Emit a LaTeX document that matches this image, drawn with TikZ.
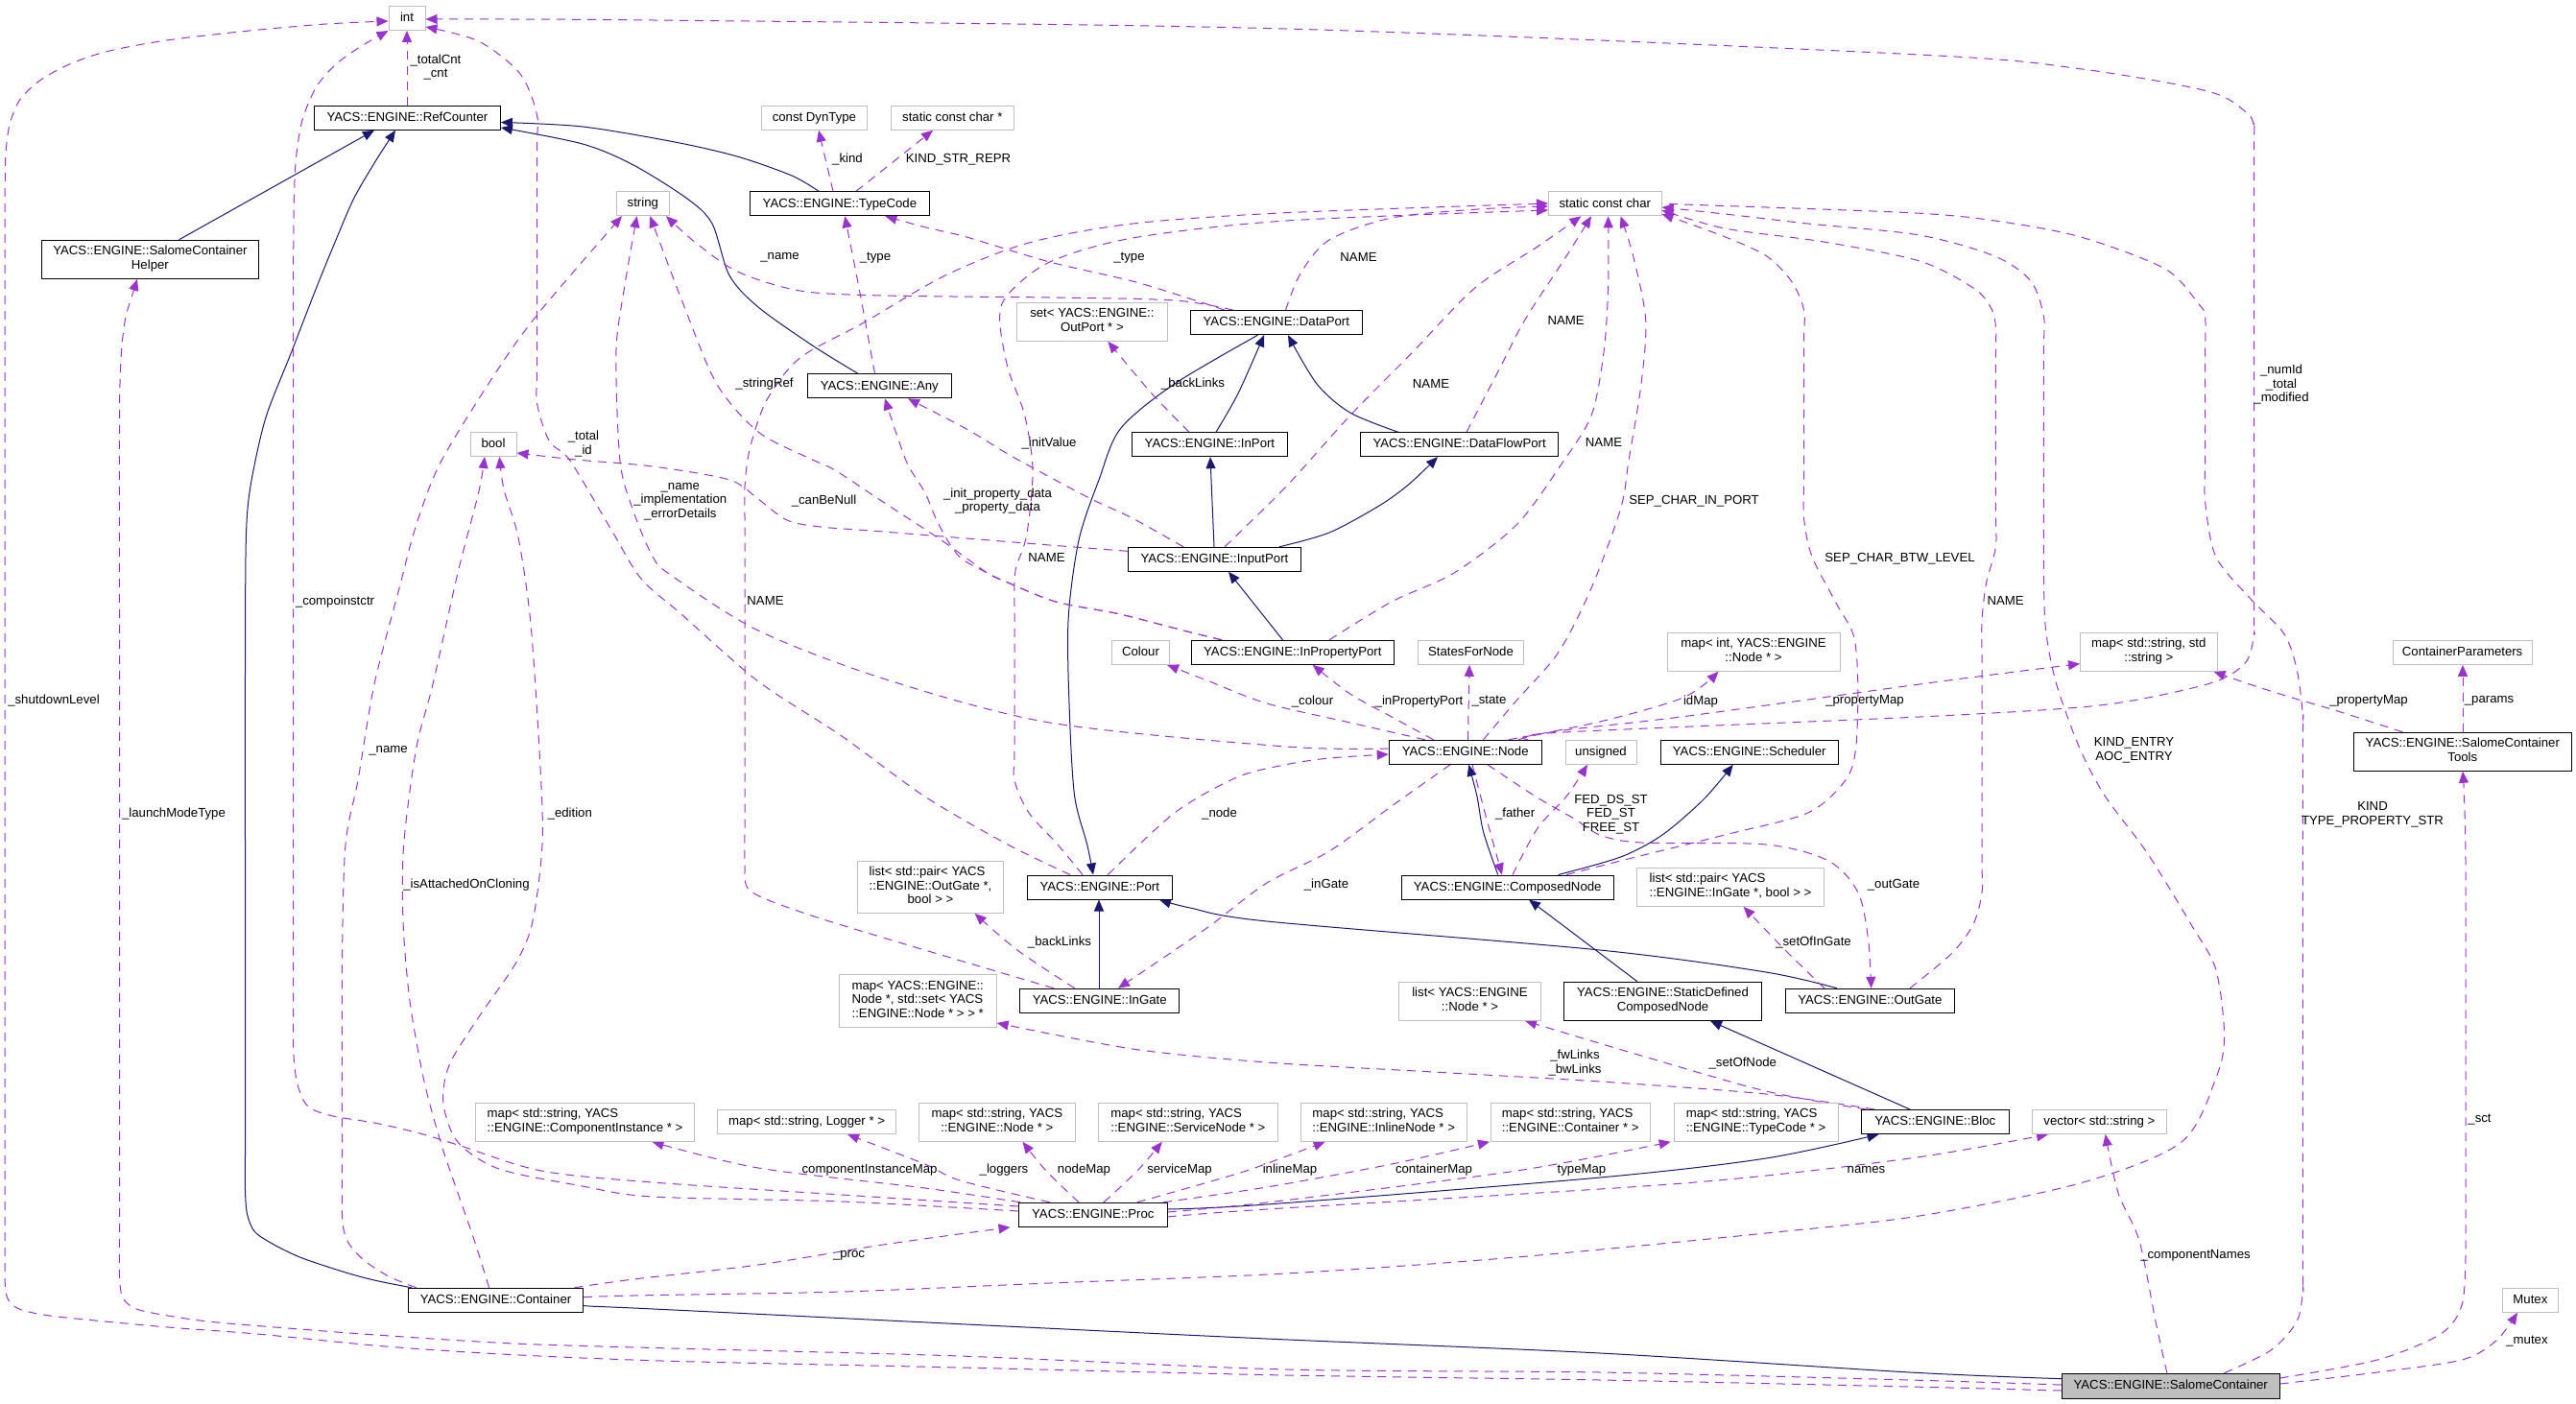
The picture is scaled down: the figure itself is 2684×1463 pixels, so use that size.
\documentclass[tikz,border=0pt]{standalone}
\usepackage{fontspec}
\setmainfont{Liberation Sans}
\usetikzlibrary{arrows.meta,calc}
\definecolor{depc}{HTML}{9A32CD}
\definecolor{inhc}{HTML}{191970}
\definecolor{extb}{HTML}{BFBFBF}
\newcommand{\dfont}{\fontsize{13.2}{14.5}\selectfont}
\newcommand{\twol}[2]{\begin{tabular}{@{}l@{}}#1\\\multicolumn{1}{@{}c@{}}{#2}\end{tabular}}
\pgfdeclarelayer{bg}
\pgfsetlayers{bg,main}
\tikzset{
  sz/.style 2 args={minimum width=#1pt,minimum height=#2pt},
  cls/.style={draw=black,line width=1pt,fill=white,inner sep=0pt},
  extbox/.style={draw=extb,line width=1pt,fill=white,inner sep=0pt},
  oneline/.style={text height=9.5pt,text depth=2pt},
  elab/.style={align=center,inner sep=0pt},
  inh/.style={draw=inhc,line width=1pt,-{Triangle[length=12pt,width=10pt]}},
  dep/.style={draw=depc,line width=1pt,dash pattern=on 9pt off 7pt,-{Triangle[length=12pt,width=10pt]}}
}
\begin{document}
\begin{tikzpicture}[x=1pt,y=-1pt,every node/.style={font=\dfont}]
\useasboundingbox (0,0) rectangle (2684,1463);
% ---------------- nodes
\node[extbox,oneline,sz={38}{25}] (int) at (424,19) {int};
\node[cls,oneline,sz={194}{25}] (RefCounter) at (424.4,122.8) {YACS::ENGINE::RefCounter};
\node[cls,sz={226}{40}] (Helper) at (156.4,270.3) {\twol{YACS::ENGINE::SalomeContainer}{Helper}};
\node[extbox,oneline,sz={55}{25}] (string) at (669.8,212.2) {string};
\node[extbox,oneline,sz={48}{25}] (bool) at (514,463) {bool};
\node[extbox,oneline,sz={110.6}{25}] (DynType) at (848.4,122.8) {const DynType};
\node[extbox,oneline,sz={127.5}{25}] (scchar) at (992.3,122.8) {static const char *};
\node[cls,oneline,sz={187}{25}] (TypeCode) at (874.9,212.3) {YACS::ENGINE::TypeCode};
\node[cls,oneline,sz={150}{25}] (Any) at (916.3,402.3) {YACS::ENGINE::Any};
\node[extbox,sz={157}{40}] (setOutPort) at (1137.9,335.3) {\twol{set< YACS::ENGINE::}{OutPort * >}};
\node[cls,oneline,sz={179}{25}] (DataPort) at (1329.8,336.2) {YACS::ENGINE::DataPort};
\node[cls,oneline,sz={162}{25}] (InPort) at (1260.4,463.2) {YACS::ENGINE::InPort};
\node[extbox,oneline,sz={117.5}{25}] (scc) at (1672.3,212.3) {static const char};
\node[cls,oneline,sz={206}{25}] (DataFlowPort) at (1520.6,463.2) {YACS::ENGINE::DataFlowPort};
\node[cls,oneline,sz={180}{25}] (InputPort) at (1265.4,582.8) {YACS::ENGINE::InputPort};
\node[extbox,oneline,sz={60}{25}] (Colour) at (1188.5,679.8) {Colour};
\node[cls,oneline,sz={211}{25}] (InPropertyPort) at (1346.8,679.8) {YACS::ENGINE::InPropertyPort};
\node[extbox,sz={152}{54}] (listOutGate) at (969.5,924.3) {\twol{list< std::pair< YACS\\::ENGINE::OutGate *,}{bool > >}};
\node[cls,oneline,sz={151}{25}] (Port) at (1145.8,924.5) {YACS::ENGINE::Port};
\node[extbox,oneline,sz={110}{25}] (StatesForNode) at (1532.5,679.8) {StatesForNode};
\node[extbox,sz={180}{40}] (mapIntNode) at (1827,679.3) {\twol{map< int, YACS::ENGINE}{::Node * >}};
\node[cls,oneline,sz={159}{25}] (Node) at (1526.7,783.8) {YACS::ENGINE::Node};
\node[extbox,oneline,sz={74}{25}] (unsigned) at (1668,783.8) {unsigned};
\node[cls,oneline,sz={185}{25}] (Scheduler) at (1822.7,783.8) {YACS::ENGINE::Scheduler};
\node[cls,oneline,sz={221}{25}] (ComposedNode) at (1570.7,924.5) {YACS::ENGINE::ComposedNode};
\node[extbox,sz={195}{40}] (listInGate) at (1803,924.3) {\twol{list< std::pair< YACS}{::ENGINE::InGate *, bool > >}};
\node[extbox,sz={142.5}{40}] (mapSS) at (2238.8,679.3) {\twol{map< std::string, std}{::string >}};
\node[extbox,oneline,sz={145}{25}] (ContainerParameters) at (2565.6,679.8) {ContainerParameters};
\node[cls,sz={226.6}{40}] (SCTools) at (2565.8,783.3) {\twol{YACS::ENGINE::SalomeContainer}{Tools}};
\node[extbox,sz={228.5}{40}] (mapCI) at (609.5,1169.3) {\twol{map< std::string, YACS}{::ENGINE::ComponentInstance * >}};
\node[cls,oneline,sz={182}{25}] (Container) at (516.5,1354.8) {YACS::ENGINE::Container};
\node[extbox,sz={164}{55}] (mapNodeSet) at (956.2,1042.8) {\twol{map< YACS::ENGINE::\\Node *, std::set< YACS}{::ENGINE::Node * > > *}};
\node[cls,oneline,sz={166.5}{25}] (InGate) at (1145.7,1042.8) {YACS::ENGINE::InGate};
\node[extbox,oneline,sz={186}{25}] (mapLogger) at (840.6,1169) {map< std::string, Logger * >};
\node[extbox,sz={162.7}{40}] (mapNode) at (1038.8,1169.3) {\twol{map< std::string, YACS}{::ENGINE::Node * >}};
\node[extbox,sz={187}{40}] (mapService) at (1237.9,1169.3) {\twol{map< std::string, YACS}{::ENGINE::ServiceNode * >}};
\node[cls,oneline,sz={154.4}{25}] (Proc) at (1138.8,1265.8) {YACS::ENGINE::Proc};
\node[extbox,sz={148}{40}] (listNode) at (1531.5,1043.3) {\twol{list< YACS::ENGINE}{::Node * >}};
\node[cls,sz={205.5}{40}] (SDCN) at (1732.5,1043.3) {\twol{YACS::ENGINE::StaticDefined}{ComposedNode}};
\node[cls,oneline,sz={176.5}{25}] (OutGate) at (1948.3,1042.8) {YACS::ENGINE::OutGate};
\node[extbox,sz={173}{40}] (mapInline) at (1441.7,1169.3) {\twol{map< std::string, YACS}{::ENGINE::InlineNode * >}};
\node[extbox,sz={165.7}{40}] (mapContainer) at (1636.2,1169.3) {\twol{map< std::string, YACS}{::ENGINE::Container * >}};
\node[extbox,sz={170.8}{40}] (mapTypeCode) at (1829.6,1169.3) {\twol{map< std::string, YACS}{::ENGINE::TypeCode * >}};
\node[cls,oneline,sz={153.8}{25}] (Bloc) at (2016.2,1169) {YACS::ENGINE::Bloc};
\node[extbox,oneline,sz={140}{25}] (vectorString) at (2187.4,1169) {vector< std::string >};
\node[extbox,oneline,sz={58}{25}] (Mutex) at (2636.4,1354.8) {Mutex};
\node[cls,oneline,sz={226.7}{26},fill=extb] (SalomeContainer) at (2261.7,1444.2) {YACS::ENGINE::SalomeContainer};
% ---------------- edges
\begin{pgfonlayer}{bg}
\fill[white] (0,0) rectangle (2684,1463);
% inheritance
\draw[inh] (186.5,0 |- Helper.north) -- (390,0 |- RefCounter.south);
\draw[inh] plot[smooth] coordinates {(429,0 |- Container.north) (390,1334) (357,1325) (312.5,1310) (282,1295) (265,1283) (257.5,1265) (255.5,1240) (255.5,1200) (255.5,1100) (255.5,900) (255.5,700) (256,580) (258,530) (264,490) (277.6,433) (303.6,367) (329.6,300) (350,250) (368.6,207) (390,170) (412,0 |- RefCounter.south)};
\draw[inh] plot[smooth] coordinates {(853,0 |- TypeCode.north) (825,183) (768,163) (703,148) (607,132) (RefCounter.east |- 0,127.5)};
\draw[inh] plot[smooth] coordinates {(894,0 |- Any.north) (846.5,360) (790,320) (760,287) (742,233) (716,207) (660,172) (607,150) (RefCounter.east |- 0,133)};
\draw[inh] plot[smooth] coordinates {(1267,0 |- InPort.north) (1290,410) (1317,0 |- DataPort.south)};
\draw[inh] plot[smooth] coordinates {(1456.6,0 |- DataFlowPort.north) (1406.7,430) (1372,400) (1342,0 |- DataPort.south)};
\draw[inh] (1265,0 |- InputPort.north) -- (1261,0 |- InPort.south);
\draw[inh] plot[smooth] coordinates {(1333,0 |- InputPort.north) (1385,555) (1437,527) (1467.5,505) (1498,0 |- DataFlowPort.south)};
\draw[inh] (1336.5,0 |- InPropertyPort.north) -- (1280,0 |- InputPort.south);
\draw[inh] plot[smooth] coordinates {(1310.5,0 |- DataPort.south) (1223.8,400) (1167.4,446.7) (1145,500) (1124,563) (1113,647) (1114.5,747) (1119.7,830) (1132.7,880) (1139,0 |- Port.north)};
\draw[inh] (1145,0 |- InGate.north) -- (1145,0 |- Port.south);
\draw[inh] plot[smooth] coordinates {(1914,0 |- OutGate.north) (1840,1013) (1667,990) (1320,960) (1240,946) (1208,0 |- Port.south)};
\draw[inh] plot[smooth] coordinates {(1560.7,0 |- ComposedNode.north) (1545.5,866.7) (1539,830) (1530.3,0 |- Node.south)};
\draw[inh] plot[smooth] coordinates {(1623.6,0 |- ComposedNode.north) (1688.6,893) (1732,870) (1775,833) (1805.7,0 |- Scheduler.south)};
\draw[inh] (1706,0 |- SDCN.north) -- (1593,0 |- ComposedNode.south);
\draw[inh] (1990,0 |- Bloc.north) -- (1782,0 |- SDCN.south);
\draw[inh] plot[smooth] coordinates {(Proc.east |- 0,1260) (1320,1255) (1667,1227) (1840,1207) (1957.5,0 |- Bloc.south)};
\draw[inh] plot[smooth] coordinates {(SalomeContainer.west |- 0,1436.7) (1990,1430) (1667,1410) (1320,1395) (1007,1380) (660,1363) (Container.east |- 0,1361.7)};
% collaboration
\draw[dep] (424,0 |- RefCounter.north) -- (424,0 |- int.south);
\draw[dep] (868,0 |- TypeCode.north) -- (853,0 |- DynType.south);
\draw[dep] (892,0 |- TypeCode.north) -- (972,0 |- scchar.south);
\draw[dep] plot[smooth] coordinates {(911.5,0 |- Any.north) (895,300) (880.3,0 |- TypeCode.south)};
\draw[dep] plot[smooth] coordinates {(1276,0 |- DataPort.north) (1245.5,313) (1180,293) (1093.7,273) (1007,247) (963.6,236.7) (922.4,0 |- TypeCode.south)};
\draw[dep] plot[smooth] coordinates {(1285,0 |- DataPort.north) (1223.8,313) (1093.7,310) (920,308) (833.5,303) (768.4,283) (725,253) (694,0 |- string.south)};
\draw[dep] plot[smooth] coordinates {(1339.5,0 |- DataPort.north) (1355,285) (1385,250) (1450,227) (1540,218) (scc.west |- 0,215)};
\draw[dep] plot[smooth] coordinates {(1239,0 |- InPort.north) (1200,410) (1154.4,0 |- setOutPort.south)};
\draw[dep] plot[smooth] coordinates {(1233,0 |- InputPort.north) (1180,540) (1137,520) (1090,495) (1050,473) (1007,447) (946,0 |- Any.south)};
\draw[dep] plot[smooth] coordinates {(InputPort.west |- 0,574.3) (1093.7,568) (920,554) (855,549) (820,542) (790,520) (760,500) (680,486) (600,479) (bool.east |- 0,472)};
\draw[dep] plot[smooth] coordinates {(1273,0 |- InPropertyPort.north) (1233,657) (1167,640) (1100,627) (1050,607) (1028.6,597) (1003,583) (989.6,567) (975,540) (963.6,513) (944,480) (922,0 |- Any.south)};
\draw[dep] plot[smooth] coordinates {(1273,0 |- InPropertyPort.north) (1233,657) (1167,640) (1100,627) (1050,607) (1028.6,597) (981,563) (920,523) (870,490) (842,477) (790,450) (746.7,400) (712,317) (677.3,0 |- string.south)};
\draw[dep] plot[smooth] coordinates {(1276,0 |- InputPort.north) (1340,507) (1406.7,433) (1471.8,367) (1536.8,300) (1602,257) (1647.4,0 |- scc.south)};
\draw[dep] plot[smooth] coordinates {(1528,0 |- DataFlowPort.north) (1563,383) (1589,333) (1632,267) (1658,0 |- scc.south)};
\draw[dep] plot[smooth] coordinates {(1385,0 |- InPropertyPort.north) (1450,627) (1515,597) (1580,547) (1626,485) (1658,433) (1671,367) (1675.6,300) (1675.6,0 |- scc.south)};
\draw[dep] plot[smooth] coordinates {(1545.5,0 |- Node.north) (1580,730) (1623.6,680) (1658,613) (1688.6,530) (1697,480) (1710,400) (1714.7,333) (1701.7,267) (1688.6,0 |- scc.south)};
\draw[dep] plot[smooth] coordinates {(1632,0 |- ComposedNode.north) (1688.6,897) (1797,870) (1883.7,847) (1922.8,813) (1933.6,780) (1935.8,713) (1931.5,663) (1914,630) (1888,580) (1879.5,540) (1879.5,500) (1879.5,360) (1879.5,323) (1866.5,293) (1840.4,266.7) (1797,246.7) (scc.east |- 0,223)};
\draw[dep] plot[smooth] coordinates {(1990,0 |- OutGate.north) (2034,993) (2056,963) (2065,930) (2065,890) (2065,690) (2065,646.7) (2069.7,606.7) (2079.4,570) (2079.4,530) (2079.4,380) (2079.4,340) (2074,320) (2056,300) (2000,272) (1900,252) (1797,238) (scc.east |- 0,219)};
\draw[dep] plot[smooth] coordinates {(Container.east |- 0,1351.7) (660,1350) (877,1346) (1093.7,1337) (1340,1327) (1580,1310) (1840,1285) (2000,1267) (2167,1233) (2273,1190) (2310,1120) (2317.5,1077) (2308.7,1010) (2284,965) (2238,890) (2193.6,830) (2167,780) (2142.7,713) (2131.6,657) (2129.4,600) (2129.4,560) (2129.4,370) (2129.4,330) (2116,293) (2078.5,267) (2000,245) (1883.7,233) (1797,223) (scc.east |- 0,216)};
\draw[dep] plot[smooth] coordinates {(2317.5,0 |- SalomeContainer.north) (2366,1407) (2393,1377) (2399.4,1343) (2399.4,1300) (2399.4,790) (2399.4,746.7) (2393,697) (2379.5,660) (2344,623) (2308.7,580) (2297.6,523) (2297.6,480) (2297.6,370) (2297.6,330) (2291,317) (2255.6,280) (2167,246.7) (2078.5,230) (1990,221.7) (1753.7,213) (scc.east |- 0,212)};
\draw[dep] plot[smooth] coordinates {(1592,0 |- Node.north) (1623.6,763.3) (2000,747) (2167,737) (2238,727) (2309,710) (2340,690) (2348.5,660) (2348.5,620) (2348.5,175) (2348.5,133) (2340,116.7) (2300,95) (2167,71.7) (2000,57) (1340,30) (680,21) (int.east |- 0,20)};
\draw[dep] plot[smooth] coordinates {(1582,0 |- Node.north) (1623.6,761.7) (1753.7,746.7) (2000,713) (2100,700) (mapSS.west |- 0,691.7)};
\draw[dep] plot[smooth] coordinates {(1572,0 |- Node.north) (1667,752) (1753.7,727) (1790.6,0 |- mapIntNode.south)};
\draw[dep] (1529.5,0 |- Node.north) -- (1531,0 |- StatesForNode.south);
\draw[dep] plot[smooth] coordinates {(1493.5,0 |- Node.north) (1450,747) (1406.7,723) (1367.7,0 |- InPropertyPort.south)};
\draw[dep] plot[smooth] coordinates {(1484.8,0 |- Node.north) (1406.7,753) (1320,733) (1260,710) (1216,0 |- Colour.south)};
\draw[dep] plot[smooth] coordinates {(Node.west |- 0,780) (1340,778) (1093.7,753) (920,707) (790,657) (700,600) (680,580) (659,530) (646,480) (641.9,367) (650.5,300) (663.6,0 |- string.south)};
\draw[dep] plot[smooth] coordinates {(1154.4,0 |- Port.north) (1223.8,847) (1288.8,810) (1340,796.7) (1385,790) (Node.west |- 0,786)};
\draw[dep] plot[smooth] coordinates {(1115,0 |- Port.north) (1050,880) (963.6,830) (877,767) (790,710) (710,640) (668,603) (637.5,553) (594,480) (572.5,460) (559.5,420) (559.5,380) (559.5,160) (559.5,120) (542,77) (498.7,43) (int.east |- 0,28)};
\draw[dep] plot[smooth] coordinates {(1128,0 |- Port.north) (1102,880) (1072,847) (1057,813) (1057,780) (1057,640) (1057,607) (1059,590) (1069.8,557) (1076,490) (1067.7,433) (1050,383) (1041.6,333) (1050,307) (1093.7,273) (1180,248) (1340,230) (scc.west |- 0,219)};
\draw[dep] plot[smooth] coordinates {(1098,0 |- InGate.north) (920,977) (833.5,950) (781.4,928) (776,900) (776,860) (776,547) (776,507) (781.4,467) (798.8,417) (833.5,373) (898.5,337) (985,287) (1072,253) (1180.4,233) (1340,221.7) (scc.west |- 0,212)};
\draw[dep] plot[smooth] coordinates {(1119.7,0 |- InGate.north) (1060,990) (1015.6,0 |- listOutGate.south)};
\draw[dep] plot[smooth] coordinates {(1511,0 |- Node.south) (1450,840) (1385,887) (1320,920) (1263,963) (1224,990) (1165,0 |- InGate.north)};
\draw[dep] plot[smooth] coordinates {(1534,0 |- Node.south) (1548,850) (1565,0 |- ComposedNode.north)};
\draw[dep] plot[smooth] coordinates {(1550,0 |- Node.south) (1600,830) (1640,853) (1667,870) (1710,878) (1840,880) (1905,897) (1936,930) (1946.7,980) (1949.6,0 |- OutGate.north)};
\draw[dep] plot[smooth] coordinates {(1576,0 |- ComposedNode.north) (1602,863) (1632,830) (1654,0 |- unsigned.south)};
\draw[dep] plot[smooth] coordinates {(1901,0 |- OutGate.north) (1860,990) (1816.6,0 |- listInGate.south)};
\draw[dep] plot[smooth] coordinates {(1953,0 |- Bloc.north) (1840,1140) (1667,1127) (1493.5,1117) (1320,1107) (1180,1093) (mapNodeSet.east |- 0,1066)};
\draw[dep] plot[smooth] coordinates {(1944.5,0 |- Bloc.north) (1840,1137) (1710,1100) (1589,0 |- listNode.south)};
\draw[dep] plot[smooth] coordinates {(1063,0 |- Proc.north) (963.6,1238) (790,1217) (679.5,0 |- mapCI.south)};
\draw[dep] plot[smooth] coordinates {(1093.7,0 |- Proc.north) (1000,1230) (963.6,1213) (883,0 |- mapLogger.south)};
\draw[dep] plot[smooth] coordinates {(1124,0 |- Proc.north) (1090,1220) (1065.5,0 |- mapNode.south)};
\draw[dep] plot[smooth] coordinates {(1150,0 |- Proc.north) (1185,1220) (1210.8,0 |- mapService.south)};
\draw[dep] plot[smooth] coordinates {(1184.8,0 |- Proc.north) (1289,1223) (1340,1205) (1380.7,0 |- mapInline.south)};
\draw[dep] plot[smooth] coordinates {(1212,0 |- Proc.north) (1320,1237) (1450,1213) (1552,0 |- mapContainer.south)};
\draw[dep] plot[smooth] coordinates {(Proc.east |- 0,1263) (1320,1253) (1580,1220) (1740.7,0 |- mapTypeCode.south)};
\draw[dep] plot[smooth] coordinates {(Proc.east |- 0,1268) (1320,1260) (1753.7,1233) (1990,1207) (2134,0 |- vectorString.south)};
\draw[dep] plot[smooth] coordinates {(Proc.west |- 0,1257) (877,1245) (680,1232) (563.8,1220) (477,1193) (433.7,1180) (390,1170) (347,1163) (321,1153) (310,1130) (306,1100) (305.7,1060) (305.7,900) (305.7,700) (305.7,500) (305.7,300) (306,230) (308,170) (315,125) (330,90) (350,67) (375,49) (int.south west)};
\draw[dep] plot[smooth] coordinates {(Proc.west |- 0,1262) (877,1252) (680,1247) (607,1236) (520,1218) (477,1190) (462,1150) (468,1110) (498.7,1060) (537.8,1003) (555,960) (565,880) (563,800) (553,650) (540,560) (525,510) (520.4,0 |- bool.south)};
\draw[dep] plot[smooth] coordinates {(509.6,0 |- Container.north) (494.4,1293) (477,1243) (460,1193) (442,1127) (427,1043) (420,960) (420.7,880) (433.7,780) (451,713) (477,597) (498.7,513) (505,0 |- bool.south)};
\draw[dep] plot[smooth] coordinates {(433.7,0 |- Container.north) (405,1330) (379,1313) (363,1295) (357,1275) (356.5,1240) (356.5,1190) (356.5,1000) (360,880) (373,813) (390,713) (416,613) (433.7,547) (460,480) (520,383) (563.8,323) (648,0 |- string.south)};
\draw[dep] plot[smooth] coordinates {(598.5,0 |- Container.north) (660,1333) (790,1318) (920,1297) (1052.5,0 |- Proc.south)};
\draw[dep] plot[smooth] coordinates {(SalomeContainer.west |- 0,1449) (1990,1445) (1667,1438) (1340,1433) (1000,1425) (700,1418.3) (535.7,1411.7) (402,1403) (268,1390) (178.6,1383.3) (89,1375) (45,1370) (20,1364) (9,1355) (5.4,1340) (5.2,1300) (5.2,1200) (5.2,1000) (5.2,800) (5.2,600) (5.2,400) (5.2,250) (5.2,200) (6,160) (10,130) (20,105) (40,85) (70,68) (110,54) (173.5,42) (260,32) (340,25) (int.west |- 0,22)};
\draw[dep] plot[smooth] coordinates {(SalomeContainer.west |- 0,1443) (1990,1438) (1667,1430) (1340,1427) (1000,1413) (700,1405) (535.7,1400) (402,1391.7) (312.5,1385) (214,1376.7) (151.8,1366.7) (135,1360) (127,1350) (124.5,1330) (124.5,1290) (124.5,1150) (124.5,900) (124.5,650) (124.5,450) (125,400) (127,360) (131,330) (137,310) (143,0 |- Helper.south)};
\draw[dep] plot[smooth] coordinates {(2257.8,0 |- SalomeContainer.north) (2246,1377) (2229,1293) (2207,1243) (2193.6,0 |- vectorString.south)};
\draw[dep] plot[smooth] coordinates {(SalomeContainer.east |- 0,1436) (2477,1417) (2543,1390) (2565,1360) (2569,1310) (2569,1270) (2569,900) (2566,0 |- SCTools.south)};
\draw[dep] plot[smooth] coordinates {(SalomeContainer.east |- 0,1442) (2477,1430) (2565,1417) (2600.8,1397) (2623,0 |- Mutex.south)};
\draw[dep] plot[smooth] coordinates {(2503.4,0 |- SCTools.north) (2432.6,740) (2388,727) (2344,713) (2306.5,0 |- mapSS.south)};
\draw[dep] (2566,0 |- SCTools.north) -- (2566,0 |- ContainerParameters.south);
\end{pgfonlayer}
% ---------------- edge labels
\node[elab] (l1) at (454,70) {\_totalCnt\\\_cnt};
\node[elab] (l2) at (883,166) {\_kind};
\node[elab] (l3) at (998.5,166) {KIND\_STR\_REPR};
\node[elab] (l4) at (812.5,268.7) {\_name};
\node[elab] (l5) at (912,268.7) {\_type};
\node[elab] (l6) at (1176.5,268.7) {\_type};
\node[elab] (l7) at (796.5,400) {\_stringRef};
\node[elab] (l8) at (1243,400) {\_backLinks};
\node[elab] (l9) at (1093,461.7) {\_initValue};
\node[elab] (l10) at (1415.5,268.3) {NAME};
\node[elab] (l11) at (1631.6,334) {NAME};
\node[elab] (l12) at (1491,400) {NAME};
\node[elab] (l13) at (1671,461) {NAME};
\node[elab] (l14) at (2377,401) {\_numId\\\_total\\\_modified};
\node[elab] (l15) at (56,730) {\_shutdownLevel};
\node[elab] (l16) at (349,626.7) {\_compoinstctr};
\node[elab] (l17) at (404.5,782.7) {\_name};
\node[elab] (l18) at (181,848) {\_launchModeType};
\node[elab] (l19) at (593.8,848) {\_edition};
\node[elab] (l20) at (486,922) {\_isAttachedOnCloning};
\node[elab] (l21) at (608,462.5) {\_total\\\_id};
\node[elab] (l22) at (708.8,522.5) {\_name\\\_implementation\\\_errorDetails};
\node[elab] (l23) at (858.5,522) {\_canBeNull};
\node[elab] (l24) at (1039.5,522) {\_init\_property\_data\\\_property\_data};
\node[elab] (l25) at (1090.5,581) {NAME};
\node[elab] (l26) at (797.5,626) {NAME};
\node[elab] (l27) at (1270.5,848) {\_node};
\node[elab] (l28) at (1765,522) {SEP\_CHAR\_IN\_PORT};
\node[elab] (l29) at (1979.5,581.7) {SEP\_CHAR\_BTW\_LEVEL};
\node[elab] (l30) at (2089.6,626) {NAME};
\node[elab] (l31) at (1367.5,730.7) {\_colour};
\node[elab] (l32) at (1478.5,730.7) {\_inPropertyPort};
\node[elab] (l33) at (1551.5,730.7) {\_state};
\node[elab] (l34) at (1772,730.7) {idMap};
\node[elab] (l35) at (1943,730.7) {\_propertyMap};
\node[elab] (l36) at (2468,730.7) {\_propertyMap};
\node[elab] (l37) at (2593.5,730.7) {\_params};
\node[elab] (l38) at (2223.5,781.7) {KIND\_ENTRY\\AOC\_ENTRY};
\node[elab] (l39) at (2472,849) {KIND\\TYPE\_PROPERTY\_STR};
\node[elab] (l40) at (1578.6,848.3) {\_father};
\node[elab] (l41) at (1678.5,848.5) {FED\_DS\_ST\\FED\_ST\\FREE\_ST};
\node[elab] (l42) at (1382,922) {\_inGate};
\node[elab] (l43) at (1973,922) {\_outGate};
\node[elab] (l44) at (1104,982) {\_backLinks};
\node[elab] (l45) at (1889.5,982) {\_setOfInGate};
\node[elab] (l46) at (1641,1107.5) {\_fwLinks\\\_bwLinks};
\node[elab] (l47) at (1815.8,1108) {\_setOfNode};
\node[elab] (l48) at (906,1219) {componentInstanceMap};
\node[elab] (l49) at (1046,1219) {\_loggers};
\node[elab] (l50) at (1129.5,1219) {nodeMap};
\node[elab] (l51) at (1229,1219) {serviceMap};
\node[elab] (l52) at (1344,1219) {inlineMap};
\node[elab] (l53) at (1494,1219) {containerMap};
\node[elab] (l54) at (1648,1219) {typeMap};
\node[elab] (l55) at (1944.5,1219) {names};
\node[elab] (l56) at (884.5,1308) {\_proc};
\node[elab] (l57) at (2287.5,1308) {\_componentNames};
\node[elab] (l58) at (2583.5,1167) {\_sct};
\node[elab] (l59) at (2633,1398) {\_mutex};
\end{tikzpicture}
\end{document}
